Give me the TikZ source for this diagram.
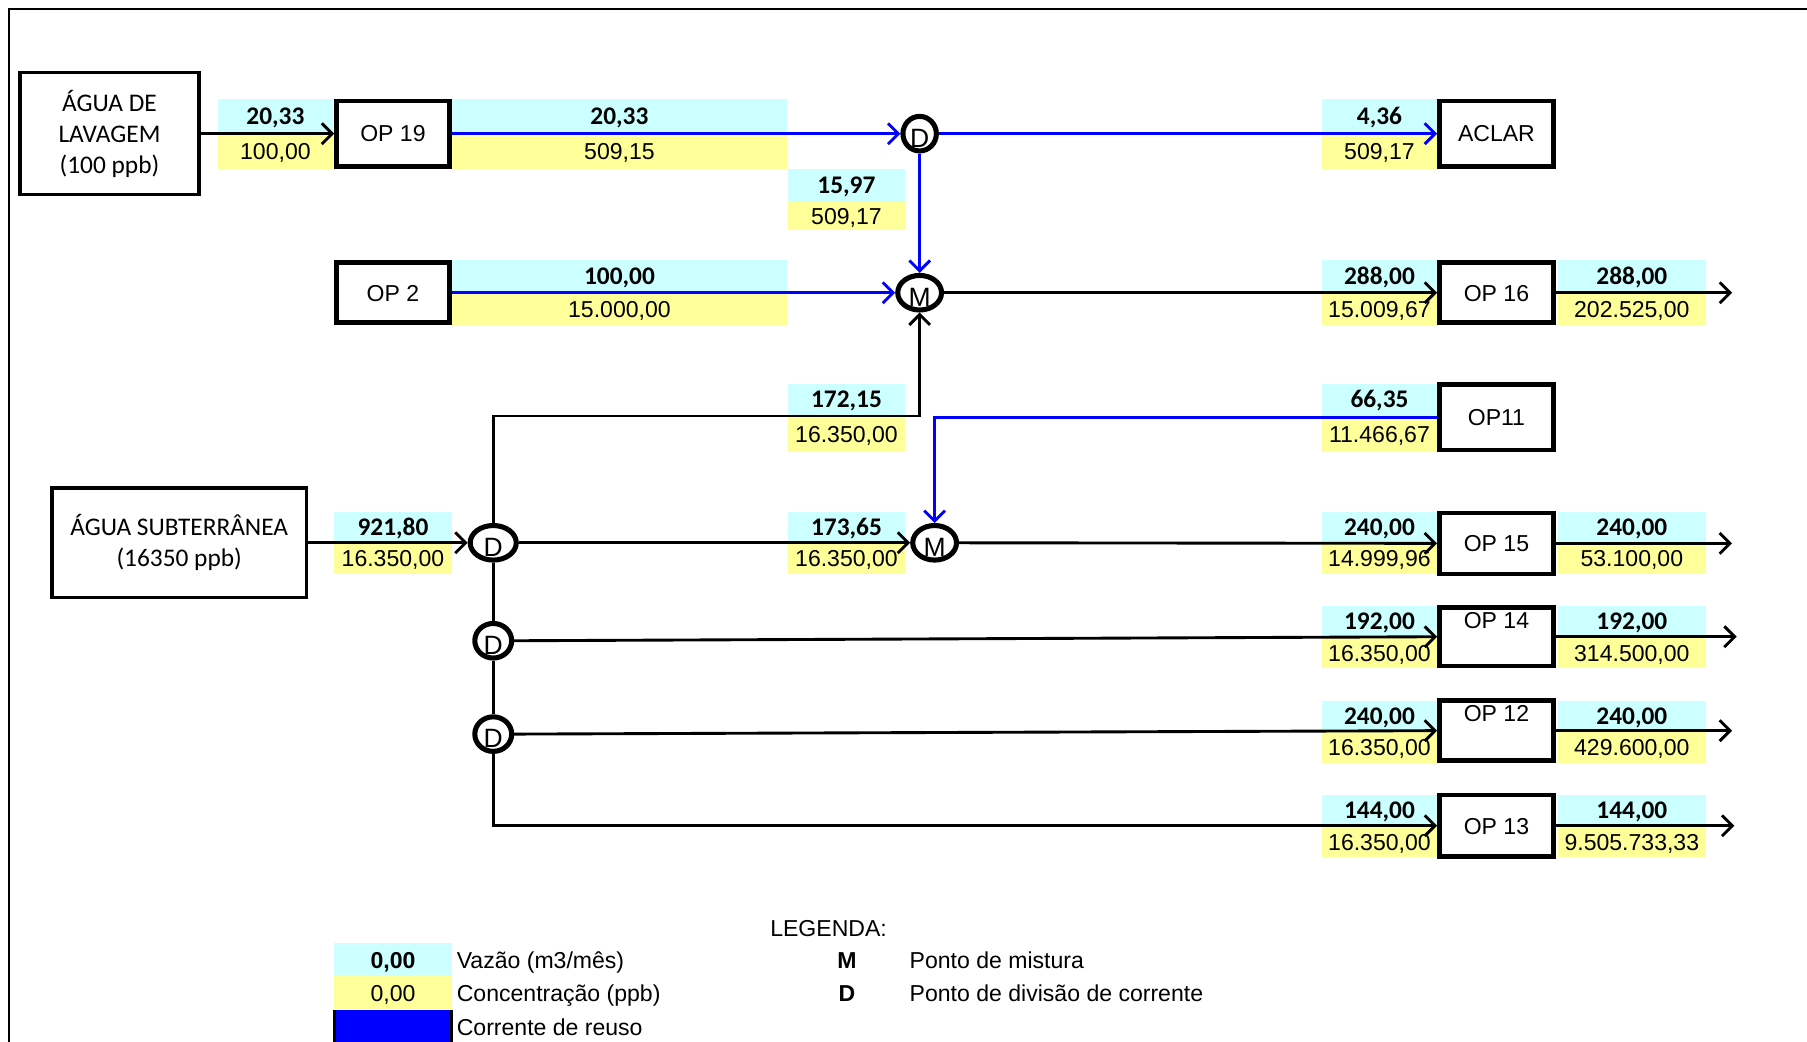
\documentclass[tikz,border=0pt]{standalone}
\usepackage{fontspec}
\setmainfont{Liberation Sans}
\newfontfamily\calfont{Carlito}
\usetikzlibrary{arrows.meta,shapes.geometric}
\definecolor{cyanc}{HTML}{CCFFFF}
\definecolor{yelc}{HTML}{FFFF99}
\definecolor{reuseblue}{HTML}{0000FF}
\tikzset{
  opbox/.style={draw, line width=2pt, inner sep=0pt, font=\fontsize{10}{12}\selectfont, text height=7.2pt, text depth=0pt},
  srcbox/.style={draw, line width=1.5pt, inner sep=0pt, align=center, font=\calfont\fontsize{11}{13.5}\selectfont},
  vflow/.style={inner sep=0pt, font=\calfont\bfseries\fontsize{11}{12}\selectfont, text height=7pt, text depth=0pt},
  cflow/.style={inner sep=0pt, font=\fontsize{10}{12}\selectfont, text height=7.2pt, text depth=0pt},
  legtxt/.style={inner sep=0pt, anchor=west, font=\fontsize{10}{12}\selectfont, text height=7.2pt, text depth=0pt},
  mixpt/.style={ellipse, draw, line width=2.2pt, inner sep=0pt},
  ltr/.style={inner sep=0pt, font=\fontsize{11.5}{12}\selectfont},
  conn/.style={line width=1.25pt, -{Straight Barb[length=4.5pt,width=9pt]}},
  reuse/.style={conn, draw=reuseblue},
  plain/.style={line width=1.25pt}
}
\newcommand\flowlab[8]{%
  \fill[cyanc] (#2,#4) rectangle (#3,#5);
  \fill[yelc] (#2,#5) rectangle (#3,#6);
  \node[vflow] (#1v) at ({(#2+#3)/2},{(#4+#5)/2}) {#7};
  \node[cflow] (#1c) at ({(#2+#3)/2},{(#5+#6)/2}) {#8};
}
\begin{document}
\begin{tikzpicture}[x=0.5pt,y=-0.5pt]
\useasboundingbox (0,0) rectangle (1568,904);
% frame
\draw[line width=1pt] (8,904) -- (8,8) -- (1568,8);

% flow labels
\flowlab{la}{189}{289}{86}{116}{147}{20,33}{100,00}
\flowlab{lb}{392}{683}{86}{116}{147}{20,33}{509,15}
\flowlab{lc}{684}{785}{147}{175}{200}{15,97}{509,17}
\flowlab{ld}{1147}{1247}{86}{116}{147}{4,36}{509,17}
\flowlab{le}{392}{683}{226}{254}{282}{100,00}{15.000,00}
\flowlab{lf}{1147}{1247}{226}{254}{282}{288,00}{15.009,67}
\flowlab{lg}{1352}{1480}{226}{254}{282}{288,00}{202.525,00}
\flowlab{lh}{684}{785}{333}{361}{392}{172,15}{16.350,00}
\flowlab{li}{1147}{1247}{333}{361}{392}{66,35}{11.466,67}
\flowlab{lj}{290}{392}{444}{471}{498}{921,80}{16.350,00}
\flowlab{lk}{684}{785}{444}{471}{498}{173,65}{16.350,00}
\flowlab{ll}{1147}{1247}{444}{471}{498}{240,00}{14.999,96}
\flowlab{lm}{1352}{1480}{444}{471}{498}{240,00}{53.100,00}
\flowlab{ln}{1147}{1247}{526}{553}{580}{192,00}{16.350,00}
\flowlab{lo}{1352}{1480}{526}{553}{580}{192,00}{314.500,00}
\flowlab{lp}{1147}{1247}{608}{635}{662}{240,00}{16.350,00}
\flowlab{lq}{1352}{1480}{608}{635}{662}{240,00}{429.600,00}
\flowlab{lr}{1147}{1247}{690}{717}{744}{144,00}{16.350,00}
\flowlab{ls}{1352}{1480}{690}{717}{744}{144,00}{9.505.733,33}

% source boxes
\node[srcbox, minimum width=77.5pt, minimum height=53pt] (agua1) at (95,116) {ÁGUA DE\\LAVAGEM\\(100 ppb)};
\node[srcbox, minimum width=110.5pt, minimum height=47.5pt] (agua2) at (155.5,471) {ÁGUA SUBTERRÂNEA\\(16350 ppb)};

% operation boxes
\node[opbox, minimum width=49pt, minimum height=28.5pt] (op19) at (341,116) {OP 19};
\node[opbox, minimum width=49.5pt, minimum height=28.5pt] (aclar) at (1298.5,116) {ACLAR};
\node[opbox, minimum width=49pt, minimum height=26pt] (op2) at (341,254) {OP 2};
\node[opbox, minimum width=49.5pt, minimum height=26pt] (op16) at (1298.5,254) {OP 16};
\node[opbox, minimum width=49.5pt, minimum height=28.5pt] (op11) at (1298.5,362) {OP11};
\node[opbox, minimum width=49.5pt, minimum height=26.5pt] (op15) at (1298.5,471.5) {OP 15};
\node[opbox, minimum width=49.5pt, minimum height=25.5pt] (op14) at (1298.5,552.5) {};
\node[opbox, minimum width=49.5pt, minimum height=26pt] (op12) at (1298.5,634) {};
\node[opbox, minimum width=49.5pt, minimum height=26.5pt] (op13) at (1298.5,716.5) {OP 13};
\node[cflow] (op14t) at ([yshift=-6.5pt]op14.north) {OP 14};
\node[cflow] (op12t) at ([yshift=-6.5pt]op12.north) {OP 12};

% mixing / division points
\node[mixpt, minimum width=14.5pt, minimum height=15pt] (d1) at (798,116) {};
\node[mixpt, minimum width=19pt, minimum height=15pt] (m1) at (798,254) {};
\node[mixpt, minimum width=20pt, minimum height=15pt] (dB) at (428,471) {};
\node[mixpt, minimum width=19pt, minimum height=15pt] (m2) at (811,471) {};
\node[mixpt, minimum width=16pt, minimum height=15pt] (d2) at (428,556) {};
\node[mixpt, minimum width=16pt, minimum height=15pt] (d3) at (428,637) {};
\node[ltr] (d1l) at ([yshift=-2pt]d1.center) {D};
\node[ltr] (m1l) at ([yshift=-2pt]m1.center) {M};
\node[ltr] (dBl) at ([yshift=-2pt]dB.center) {D};
\node[ltr] (m2l) at ([yshift=-2pt]m2.center) {M};
\node[ltr] (d2l) at ([yshift=-2pt]d2.center) {D};
\node[ltr] (d3l) at ([yshift=-2pt]d3.center) {D};

% free ends
\coordinate (o16) at (1503,254);
\coordinate (o15) at (1503,471.5);
\coordinate (o14) at (1507,552.5);
\coordinate (o12) at (1503,634);
\coordinate (o13) at (1505,716.5);
\coordinate (k1) at (798,361);

% connectors
\draw[conn] (agua1.east) -- (op19.west);
\draw[reuse] (op19.east) -- (d1.west);
\draw[reuse] (d1.east) -- (aclar.west);
\draw[reuse] (d1.south) -- (m1.north);
\draw[reuse] (op2.east) -- (m1.west);
\draw[conn] (m1.east) -- (op16.west);
\draw[conn] (op16.east) -- (o16);
\draw[conn] (dB.north) |- (k1) -- (m1.south);
\draw[reuse] (op11.west) -| (m2.north);
\draw[conn] (agua2.east) -- (dB.west);
\draw[conn] (dB.east) -- (m2.west);
\draw[conn] (m2.east) -- (op15.west);
\draw[conn] (op15.east) -- (o15);
\draw[plain] (dB.south) -- (d2.north);
\draw[plain] (d2.south) -- (d3.north);
\draw[conn] (d2.east) -- (op14.west);
\draw[conn] (op14.east) -- (o14);
\draw[conn] (d3.east) -- (op12.west);
\draw[conn] (op12.east) -- (o12);
\draw[conn] (d3.south) |- (op13.west);
\draw[conn] (op13.east) -- (o13);

% legend
\node[legtxt] (legt) at (668,805) {LEGENDA:};
\fill[cyanc] (290,818) rectangle (392,847);
\fill[yelc] (290,847) rectangle (392,876);
\fill[reuseblue] (290,876) rectangle (392,904);
\draw[plain] (290,876) -- (290,904);
\draw[plain] (392,876) -- (392,904);
\node[inner sep=0pt, font=\bfseries\fontsize{10}{12}\selectfont, text height=7.2pt, text depth=0pt] (legv) at (341,833) {0,00};
\node[cflow] (legc) at (341,862) {0,00};
\node[legtxt] (legvt) at (396,833) {Vazão (m3/mês)};
\node[legtxt] (legct) at (396,862) {Concentração (ppb)};
\node[legtxt] (legrt) at (396,891) {Corrente de reuso};
\node[inner sep=0pt, font=\bfseries\fontsize{10}{12}\selectfont, text height=7.2pt, text depth=0pt] (legm) at (735,833) {M};
\node[inner sep=0pt, font=\bfseries\fontsize{10}{12}\selectfont, text height=7.2pt, text depth=0pt] (legd) at (735,862) {D};
\node[legtxt] (legmt) at (789,833) {Ponto de mistura};
\node[legtxt] (legdt) at (789,862) {Ponto de divisão de corrente};
\end{tikzpicture}
\end{document}
